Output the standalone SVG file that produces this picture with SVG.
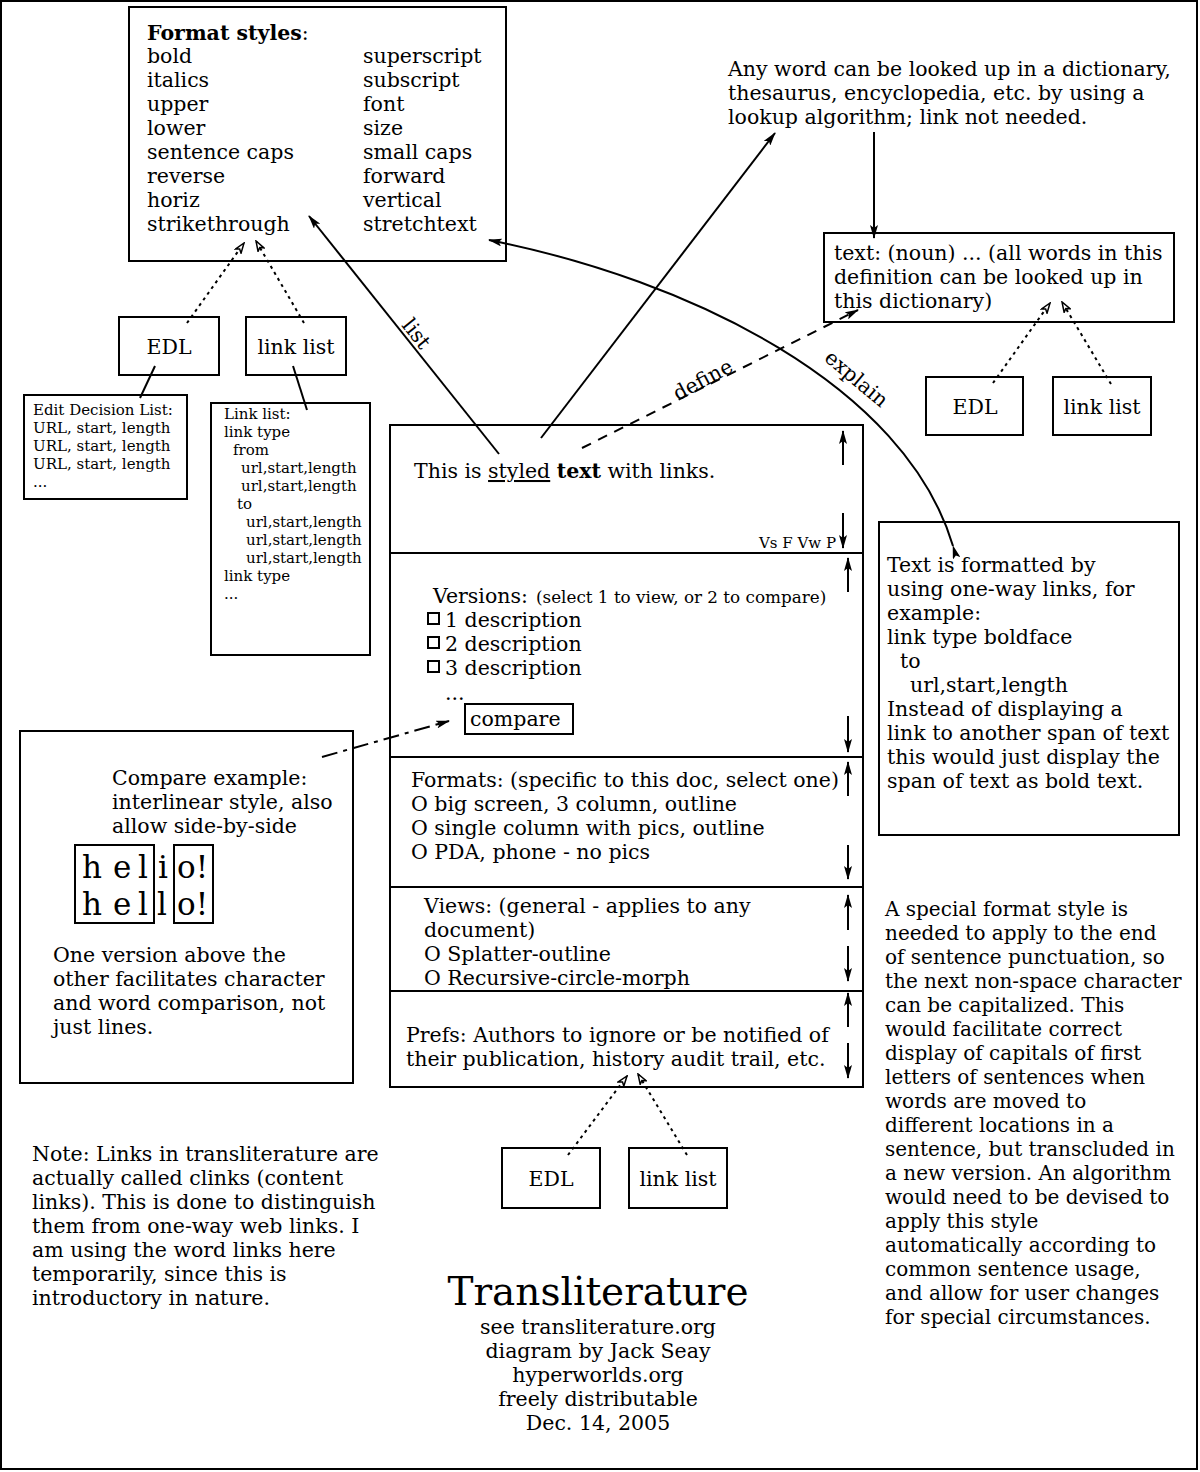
<svg xmlns="http://www.w3.org/2000/svg" width="1200" height="1472" viewBox="0 0 1200 1472">
<style>
text{font-family:"DejaVu Serif","Liberation Serif",serif;fill:#000;font-size:20.5px}
.sm{font-size:15px}
.xs{font-size:15px}
.par{font-size:16.8px}
.big{font-size:31px}
.ttl{font-size:39px}
.rp{font-size:20px}
.mid{text-anchor:middle}
.box{fill:none;stroke:#000;stroke-width:2}
.ln{fill:none;stroke:#000;stroke-width:2}
.dot{fill:none;stroke:#000;stroke-width:2;stroke-dasharray:3 4}
.dash{fill:none;stroke:#000;stroke-width:2;stroke-dasharray:10 8}
.dd{fill:none;stroke:#000;stroke-width:2;stroke-dasharray:16 6 4 6}
</style>
<defs>
<marker id="ah" viewBox="0 0 14 8" refX="13" refY="4" markerWidth="14" markerHeight="8" markerUnits="userSpaceOnUse" orient="auto"><path d="M0,0 L14,4 L0,8 L3,4 z" fill="#000"/></marker>
<marker id="ao" viewBox="0 0 12 9" refX="11" refY="4.5" markerWidth="12" markerHeight="9" markerUnits="userSpaceOnUse" orient="auto"><path d="M1,1 L11,4.5 L1,8 L3.5,4.5 z" fill="#fff" stroke="#000" stroke-width="1.5"/></marker>
</defs>
<rect x="0" y="0" width="1200" height="1472" fill="#fff"/>
<rect class="box" x="1" y="1" width="1196" height="1468"/>

<g id="format-styles">
<rect class="box" x="129" y="7" width="377" height="254"/>
<text x="147" y="40"><tspan font-weight="bold">Format styles</tspan>:</text>
<text x="147" y="63">bold</text>
<text x="147" y="87">italics</text>
<text x="147" y="111">upper</text>
<text x="147" y="135">lower</text>
<text x="147" y="159">sentence caps</text>
<text x="147" y="183">reverse</text>
<text x="147" y="207">horiz</text>
<text x="147" y="231">strikethrough</text>
<text x="363" y="63">superscript</text>
<text x="363" y="87">subscript</text>
<text x="363" y="111">font</text>
<text x="363" y="135">size</text>
<text x="363" y="159">small caps</text>
<text x="363" y="183">forward</text>
<text x="363" y="207">vertical</text>
<text x="363" y="231">stretchtext</text>
</g>

<g id="edl-top">
<rect class="box" x="119" y="317" width="100" height="58"/>
<text class="mid" x="169" y="354">EDL</text>
</g>
<g id="linklist-top">
<rect class="box" x="246" y="317" width="100" height="58"/>
<text class="mid" x="296" y="354">link list</text>
</g>

<g id="edit-decision-list">
<rect class="box" x="24" y="395" width="163" height="104"/>
<text class="sm" x="33" y="415">Edit Decision List:</text>
<text class="sm" x="33" y="433">URL, start, length</text>
<text class="sm" x="33" y="451">URL, start, length</text>
<text class="sm" x="33" y="469">URL, start, length</text>
<text class="sm" x="33" y="487">...</text>
</g>

<g id="link-list-detail">
<rect class="box" x="211" y="403" width="159" height="252"/>
<text class="sm" x="224" y="419">Link list:</text>
<text class="sm" x="224" y="437">link type</text>
<text class="sm" x="233" y="455">from</text>
<text class="sm" x="241" y="473">url,start,length</text>
<text class="sm" x="241" y="491">url,start,length</text>
<text class="sm" x="237" y="509">to</text>
<text class="sm" x="246" y="527">url,start,length</text>
<text class="sm" x="246" y="545">url,start,length</text>
<text class="sm" x="246" y="563">url,start,length</text>
<text class="sm" x="224" y="581">link type</text>
<text class="sm" x="224" y="599">...</text>
</g>

<g id="lookup-note">
<text x="728" y="76">Any word can be looked up in a dictionary,</text>
<text x="728" y="100">thesaurus, encyclopedia, etc. by using a</text>
<text x="728" y="124">lookup algorithm; link not needed.</text>
</g>

<g id="definition">
<rect class="box" x="824" y="233" width="350" height="89"/>
<text x="834" y="260">text: (noun) ... (all words in this</text>
<text x="834" y="284">definition can be looked up in</text>
<text x="834" y="308">this dictionary)</text>
</g>

<g id="edl-right">
<rect class="box" x="926" y="377" width="97" height="58"/>
<text class="mid" x="975" y="414">EDL</text>
</g>
<g id="linklist-right">
<rect class="box" x="1053" y="377" width="98" height="58"/>
<text class="mid" x="1102" y="414">link list</text>
</g>

<g id="document">
<rect class="box" x="390" y="425" width="473" height="662"/>
<line class="ln" x1="390" y1="553" x2="863" y2="553"/>
<line class="ln" x1="390" y1="757" x2="863" y2="757"/>
<line class="ln" x1="390" y1="887" x2="863" y2="887"/>
<line class="ln" x1="390" y1="991" x2="863" y2="991"/>
<text x="414" y="478">This is <tspan text-decoration="underline">styled</tspan> <tspan font-weight="bold">text</tspan> with links.</text>
<text class="xs" x="836" y="548" text-anchor="end">Vs F Vw P</text>
<text x="433" y="603">Versions:</text>
<text class="par" x="536" y="603">(select 1 to view, or 2 to compare)</text>
<rect class="box" x="428" y="613" width="11" height="11"/>
<rect class="box" x="428" y="637" width="11" height="11"/>
<rect class="box" x="428" y="661" width="11" height="11"/>
<text x="445" y="627">1 description</text>
<text x="445" y="651">2 description</text>
<text x="445" y="675">3 description</text>
<text x="445" y="700">...</text>
<rect class="box" x="465" y="704" width="108" height="30"/>
<text x="470" y="726">compare</text>
<text x="411" y="787">Formats: (specific to this doc, select one)</text>
<text x="411" y="811">O big screen, 3 column, outline</text>
<text x="411" y="835">O single column with pics, outline</text>
<text x="411" y="859">O PDA, phone - no pics</text>
<text x="424" y="913">Views: (general - applies to any</text>
<text x="424" y="937">document)</text>
<text x="424" y="961">O Splatter-outline</text>
<text x="424" y="985">O Recursive-circle-morph</text>
<text x="406" y="1042">Prefs: Authors to ignore or be notified of</text>
<text x="406" y="1066">their publication, history audit trail, etc.</text>
<line class="ln" x1="843" y1="465" x2="843" y2="431" marker-end="url(#ah)"/>
<line class="ln" x1="843" y1="513" x2="843" y2="548" marker-end="url(#ah)"/>
<line class="ln" x1="848" y1="592" x2="848" y2="558" marker-end="url(#ah)"/>
<line class="ln" x1="848" y1="716" x2="848" y2="752" marker-end="url(#ah)"/>
<line class="ln" x1="848" y1="796" x2="848" y2="762" marker-end="url(#ah)"/>
<line class="ln" x1="848" y1="845" x2="848" y2="879" marker-end="url(#ah)"/>
<line class="ln" x1="848" y1="930" x2="848" y2="895" marker-end="url(#ah)"/>
<line class="ln" x1="848" y1="946" x2="848" y2="981" marker-end="url(#ah)"/>
<line class="ln" x1="848" y1="1027" x2="848" y2="993" marker-end="url(#ah)"/>
<line class="ln" x1="848" y1="1043" x2="848" y2="1078" marker-end="url(#ah)"/>
</g>

<g id="formatted-note">
<rect class="box" x="879" y="522" width="300" height="313"/>
<text x="887" y="572">Text is formatted by</text>
<text x="887" y="596">using one-way links, for</text>
<text x="887" y="620">example:</text>
<text x="887" y="644">link type boldface</text>
<text x="900" y="668">to</text>
<text x="910" y="692">url,start,length</text>
<text x="887" y="716">Instead of displaying a</text>
<text x="887" y="740">link to another span of text</text>
<text x="887" y="764">this would just display the</text>
<text x="887" y="788">span of text as bold text.</text>
</g>

<g id="compare-example">
<rect class="box" x="20" y="731" width="333" height="352"/>
<text x="112" y="785">Compare example:</text>
<text x="112" y="809">interlinear style, also</text>
<text x="112" y="833">allow side-by-side</text>
<rect class="box" x="75" y="845" width="79" height="78"/>
<rect class="box" x="174" y="845" width="39" height="78"/>
<text class="big" x="82" y="878">h</text><text class="big" x="113" y="878">e</text><text class="big" x="138" y="878">l</text><text class="big" x="158" y="878">i</text><text class="big" x="177" y="878">o!</text>
<text class="big" x="82" y="915">h</text><text class="big" x="113" y="915">e</text><text class="big" x="138" y="915">l</text><text class="big" x="157" y="915">l</text><text class="big" x="177" y="915">o!</text>
<text x="53" y="962">One version above the</text>
<text x="53" y="986">other facilitates character</text>
<text x="53" y="1010">and word comparison, not</text>
<text x="53" y="1034">just lines.</text>
</g>

<g id="capitalization-note">
<text class="rp" x="885" y="916">A special format style is</text>
<text class="rp" x="885" y="940">needed to apply to the end</text>
<text class="rp" x="885" y="964">of sentence punctuation, so</text>
<text class="rp" x="885" y="988">the next non-space character</text>
<text class="rp" x="885" y="1012">can be capitalized. This</text>
<text class="rp" x="885" y="1036">would facilitate correct</text>
<text class="rp" x="885" y="1060">display of capitals of first</text>
<text class="rp" x="885" y="1084">letters of sentences when</text>
<text class="rp" x="885" y="1108">words are moved to</text>
<text class="rp" x="885" y="1132">different locations in a</text>
<text class="rp" x="885" y="1156">sentence, but transcluded in</text>
<text class="rp" x="885" y="1180">a new version. An algorithm</text>
<text class="rp" x="885" y="1204">would need to be devised to</text>
<text class="rp" x="885" y="1228">apply this style</text>
<text class="rp" x="885" y="1252">automatically according to</text>
<text class="rp" x="885" y="1276">common sentence usage,</text>
<text class="rp" x="885" y="1300">and allow for user changes</text>
<text class="rp" x="885" y="1324">for special circumstances.</text>
</g>

<g id="links-note">
<text x="32" y="1161">Note: Links in transliterature are</text>
<text x="32" y="1185">actually called clinks (content</text>
<text x="32" y="1209">links). This is done to distinguish</text>
<text x="32" y="1233">them from one-way web links. I</text>
<text x="32" y="1257">am using the word links here</text>
<text x="32" y="1281">temporarily, since this is</text>
<text x="32" y="1305">introductory in nature.</text>
</g>

<g id="edl-bottom">
<rect class="box" x="502" y="1148" width="98" height="60"/>
<text class="mid" x="551" y="1186">EDL</text>
</g>
<g id="linklist-bottom">
<rect class="box" x="629" y="1148" width="98" height="60"/>
<text class="mid" x="678" y="1186">link list</text>
</g>

<g id="title">
<text class="mid ttl" x="598" y="1305">Transliterature</text>
<text class="mid" x="598" y="1334">see transliterature.org</text>
<text class="mid" x="598" y="1358">diagram by Jack Seay</text>
<text class="mid" x="598" y="1382">hyperworlds.org</text>
<text class="mid" x="598" y="1406">freely distributable</text>
<text class="mid" x="598" y="1430">Dec. 14, 2005</text>
</g>

<g id="connectors">
<line class="dot" x1="187" y1="323" x2="244" y2="243" marker-end="url(#ao)"/>
<line class="dot" x1="304" y1="323" x2="256" y2="241" marker-end="url(#ao)"/>
<line class="ln" x1="155" y1="366" x2="140" y2="398"/>
<line class="ln" x1="293" y1="366" x2="307" y2="410"/>
<line class="ln" x1="499" y1="454" x2="309" y2="216" marker-end="url(#ah)"/>
<text transform="translate(411,338) rotate(51.6)" class="mid">list</text>
<line class="ln" x1="541" y1="438" x2="775" y2="133" marker-end="url(#ah)"/>
<line class="dash" x1="582" y1="448" x2="858" y2="310" marker-end="url(#ah)"/>
<text transform="translate(706,386) rotate(-28)" class="mid">define</text>
<path class="ln" d="M953,546 C905,385 690,280 489,240" marker-start="url(#ah)" marker-end="url(#ah)"/>
<text transform="translate(852,384) rotate(40)" class="mid">explain</text>
<line class="ln" x1="874" y1="132" x2="874" y2="238" marker-end="url(#ah)"/>
<line class="dot" x1="993" y1="383" x2="1050" y2="303" marker-end="url(#ao)"/>
<line class="dot" x1="1111" y1="384" x2="1062" y2="302" marker-end="url(#ao)"/>
<line class="dd" x1="322" y1="757" x2="449" y2="721" marker-end="url(#ah)"/>
<line class="dot" x1="568" y1="1155" x2="627" y2="1076" marker-end="url(#ao)"/>
<line class="dot" x1="687" y1="1155" x2="638" y2="1074" marker-end="url(#ao)"/>
</g>
</svg>
